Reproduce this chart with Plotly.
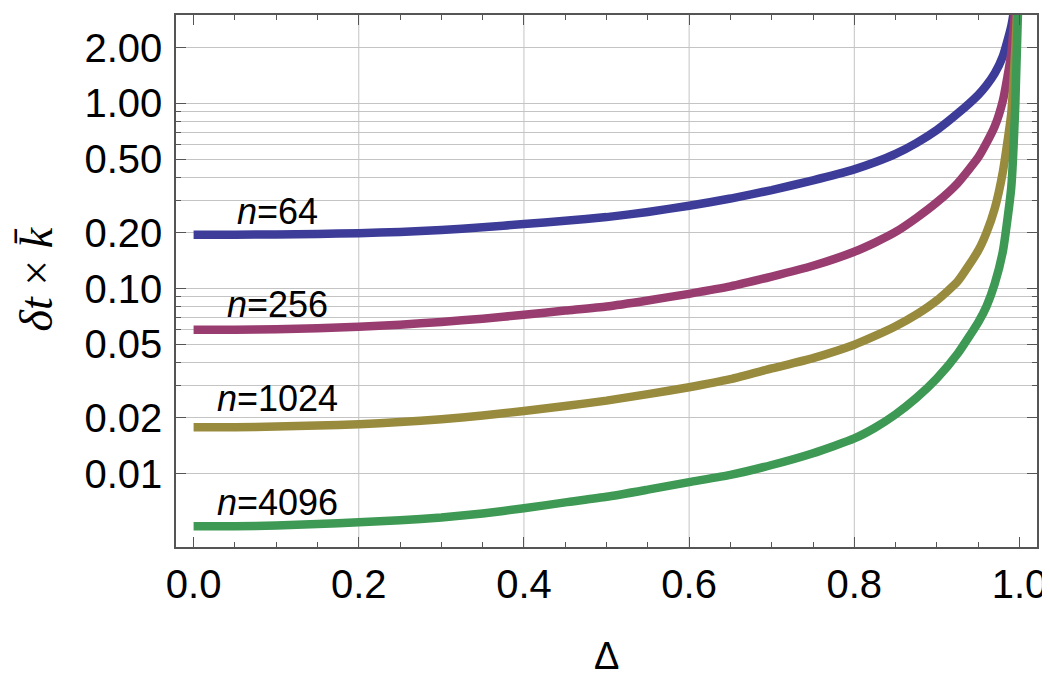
import plotly.graph_objects as go

# Data (Delta vs dt*k on a log scale)
delta = [0, 0.05, 0.1, 0.15, 0.2, 0.25, 0.3, 0.35, 0.4, 0.45, 0.5, 0.55, 0.6, 0.65, 0.7,
         0.75, 0.8, 0.825, 0.85, 0.875, 0.9, 0.925, 0.95, 0.96, 0.97, 0.98, 0.99, 0.995, 1.0]
n64 = [0.195, 0.195, 0.196, 0.197, 0.199, 0.202, 0.207, 0.214, 0.223, 0.232, 0.243, 0.259, 0.28, 0.306, 0.34,
       0.384, 0.44, 0.48, 0.533, 0.61, 0.718, 0.88, 1.11, 1.25, 1.45, 1.8, 2.6, 3.6, 6.0]
n256 = [0.0598, 0.0599, 0.0602, 0.061, 0.0621, 0.0638, 0.066, 0.0687, 0.0721, 0.076, 0.080, 0.0862, 0.0936, 0.1026, 0.116,
        0.1327, 0.158, 0.177, 0.202, 0.24, 0.292, 0.37, 0.51, 0.61, 0.75, 1.04, 1.85, 3.3, 6.0]
n1024 = [0.0178, 0.0178, 0.0180, 0.0182, 0.0185, 0.019, 0.0197, 0.0206, 0.0218, 0.0232, 0.0248, 0.0269, 0.0293, 0.0324, 0.037,
         0.0421, 0.0497, 0.0554, 0.0625, 0.0722, 0.0863, 0.109, 0.16, 0.2, 0.27, 0.43, 0.88, 2.0, 6.0]
n4096 = [0.0052, 0.0052, 0.00525, 0.00535, 0.00546, 0.0056, 0.0058, 0.0061, 0.0065, 0.0070, 0.0075, 0.0082, 0.009, 0.00985, 0.01114,
         0.0129, 0.0155, 0.0177, 0.0209, 0.0256, 0.0327, 0.0444, 0.0657, 0.08, 0.106, 0.16, 0.35, 1.0, 6.0]

series = [('<i>n</i>=64', n64, '#3d3d99'),
          ('<i>n</i>=256', n256, '#993d71'),
          ('<i>n</i>=1024', n1024, '#998b3d'),
          ('<i>n</i>=4096', n4096, '#3d9954')]
label_y = [-0.585, -1.088, -1.596, -2.156]   # log10 positions of the curve labels

y_labels = [0.01, 0.02, 0.05, 0.1, 0.2, 0.5, 1, 2]
y_text = ['0.01', '0.02', '0.05', '0.10', '0.20', '0.50', '1.00', '2.00']
y_minor = [0.03, 0.04, 0.06, 0.07, 0.08, 0.09, 0.3, 0.4, 0.6, 0.7, 0.8, 0.9]
x_labels = [0, 0.2, 0.4, 0.6, 0.8, 1.0]
x_text = ['0.0', '0.2', '0.4', '0.6', '0.8', '1.0']
x_grid = [0.2, 0.4, 0.6, 0.8]

xr = [-0.0213, 1.0212]
yr = [-2.396, 0.477]
grid = '#c4c4c4'
frame = '#555555'
sans = 'Liberation Sans, Arial, sans-serif'

fig = go.Figure()

# vertical grid only at the inner major ticks
for v in x_grid:
    fig.add_vline(x=v, line_color=grid, line_width=1, layer='below')

for name, vals, col in series:
    fig.add_trace(go.Scatter(x=delta, y=vals, mode='lines', name=name,
                             line=dict(color=col, width=8.5, shape='spline', smoothing=0.5)))

for (name, vals, col), ly in zip(series, label_y):
    fig.add_annotation(x=0.102, y=ly, text=name, showarrow=False,
                       font=dict(family=sans, size=36, color='black'))

fig.add_annotation(x=-0.162, y=0.504, xref='paper', yref='paper', textangle=-90,
                   xanchor='center', yanchor='middle',
                   text='<i>δt</i> × <i>k̄</i>', showarrow=False,
                   font=dict(family='Liberation Serif, serif', size=46, color='black'))
fig.add_annotation(x=0.5, y=-0.205, xref='paper', yref='paper', text='Δ', showarrow=False,
                   xanchor='center', yanchor='middle',
                   font=dict(family=sans, size=38, color='black'))

# the page body adds 8px on the left/top, so margins are shifted to compensate
fig.update_layout(
    width=1050, height=680,
    margin=dict(l=168, r=21, t=7, b=141),
    paper_bgcolor='white', plot_bgcolor='white',
    showlegend=False,
    xaxis=dict(range=xr, tickvals=x_labels, ticktext=x_text, ticks='inside', ticklen=10,
               tickcolor=frame, mirror='allticks', showline=True, linecolor=frame, linewidth=1.5,
               showgrid=False, zeroline=False, ticklabelstandoff=1, automargin=False,
               tickfont=dict(family=sans, size=40, color='black'),
               minor=dict(dtick=0.05, tick0=0, ticks='inside', ticklen=5, tickcolor=frame,
                          showgrid=False)),
    yaxis=dict(type='log', range=yr, tickvals=y_labels, ticktext=y_text, ticks='inside',
               ticklen=10, tickcolor=frame, mirror='allticks', showline=True, linecolor=frame,
               linewidth=1.5, showgrid=True, gridcolor=grid, zeroline=False, automargin=False,
               ticklabelstandoff=4, tickfont=dict(family=sans, size=40, color='black'),
               minor=dict(tickmode='array', tickvals=y_minor, ticks='inside', ticklen=5,
                          tickcolor=frame, showgrid=True, gridcolor=grid)),
)

fig.write_html("out.html")
